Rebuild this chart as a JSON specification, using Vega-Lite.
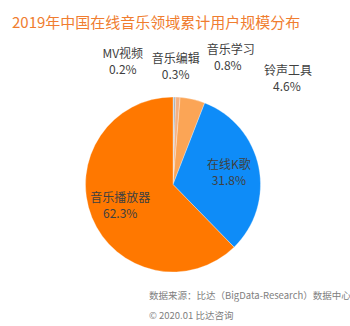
{
  "$schema": "https://vega.github.io/schema/vega-lite/v6.json",
  "autosize": {"type": "none"},
  "padding": {"left": 0, "top": 97, "right": 4, "bottom": 229},
  "background": "white",
  "bounds": "flush",
  "config": {
    "view": {"stroke": null},
    "font": "Noto Sans CJK SC",
    "text": {"font": "Noto Sans CJK SC", "fontSize": 12, "color": "#404040"}
  },
  "title": {
    "text": "数据来源：比达（BigData-Research）数据中心",
    "subtitle": "© 2020.01 比达咨询",
    "orient": "bottom",
    "anchor": "start",
    "frame": "group",
    "dx": 149,
    "offset": 18,
    "font": "Noto Sans CJK SC",
    "fontSize": 9.5,
    "fontWeight": "normal",
    "color": "#808080",
    "subtitleFont": "Noto Sans CJK SC",
    "subtitleFontSize": 9.5,
    "subtitleColor": "#808080",
    "subtitlePadding": 11
  },
  "vconcat": [
    {
      "width": 346,
      "height": 175,
      "title": {
        "text": "2019年中国在线音乐领域累计用户规模分布",
        "anchor": "start",
        "frame": "group",
        "dx": 12,
        "offset": 13,
        "font": "Noto Sans CJK SC",
        "fontSize": 15,
        "fontWeight": "normal",
        "color": "#F07D2F"
      },
      "data": {
        "values": [
          {"name": "MV视频", "share": 0.002, "rank": 1},
          {"name": "音乐编辑", "share": 0.003, "rank": 2},
          {"name": "音乐学习", "share": 0.008, "rank": 3},
          {"name": "铃声工具", "share": 0.046, "rank": 4},
          {"name": "在线K歌", "share": 0.318, "rank": 5},
          {"name": "音乐播放器", "share": 0.623, "rank": 6}
        ]
      },
      "encoding": {
        "theta": {"field": "share", "type": "quantitative", "stack": true},
        "order": {"field": "rank", "type": "quantitative"}
      },
      "layer": [
        {
          "mark": {"type": "arc", "outerRadius": 87.5, "stroke": "white", "strokeWidth": 0.3},
          "encoding": {
            "color": {
              "field": "name",
              "type": "nominal",
              "scale": {
                "domain": ["MV视频", "音乐编辑", "音乐学习", "铃声工具", "在线K歌", "音乐播放器"],
                "range": ["#9DC3E6", "#A5A5A5", "#F4B183", "#FBA556", "#0E8CF8", "#FF7800"]
              },
              "legend": null
            }
          }
        },
        {
          "mark": {"type": "text", "radius": 57, "dy": -8},
          "encoding": {"text": {"condition": {"test": "datum.share > 0.1", "field": "name"}, "value": ""}}
        },
        {
          "mark": {"type": "text", "radius": 57, "dy": 8},
          "encoding": {"text": {"condition": {"test": "datum.share > 0.1", "field": "share", "format": ".1%"}, "value": ""}}
        },
        {
          "mark": {"type": "text", "radius": 120, "dx": -51, "dy": -10.5},
          "encoding": {"text": {"condition": {"test": "datum.name == 'MV视频'", "field": "name"}, "value": ""}}
        },
        {
          "mark": {"type": "text", "radius": 120, "dx": -51, "dy": 5.5},
          "encoding": {"text": {"condition": {"test": "datum.name == 'MV视频'", "field": "share", "format": ".1%"}, "value": ""}}
        },
        {
          "mark": {"type": "text", "radius": 120, "dx": 0, "dy": -5.5},
          "encoding": {"text": {"condition": {"test": "datum.name == '音乐编辑'", "field": "name"}, "value": ""}}
        },
        {
          "mark": {"type": "text", "radius": 120, "dx": 0, "dy": 10.5},
          "encoding": {"text": {"condition": {"test": "datum.name == '音乐编辑'", "field": "share", "format": ".1%"}, "value": ""}}
        },
        {
          "mark": {"type": "text", "radius": 120, "dx": 51, "dy": -14.5},
          "encoding": {"text": {"condition": {"test": "datum.name == '音乐学习'", "field": "name"}, "value": ""}}
        },
        {
          "mark": {"type": "text", "radius": 120, "dx": 48, "dy": 1.5},
          "encoding": {"text": {"condition": {"test": "datum.name == '音乐学习'", "field": "share", "format": ".1%"}, "value": ""}}
        },
        {
          "mark": {"type": "text", "radius": 120, "dx": 88, "dy": 3.5},
          "encoding": {"text": {"condition": {"test": "datum.name == '铃声工具'", "field": "name"}, "value": ""}}
        },
        {
          "mark": {"type": "text", "radius": 120, "dx": 87, "dy": 19.5},
          "encoding": {"text": {"condition": {"test": "datum.name == '铃声工具'", "field": "share", "format": ".1%"}, "value": ""}}
        }
      ]
    }
  ]
}
